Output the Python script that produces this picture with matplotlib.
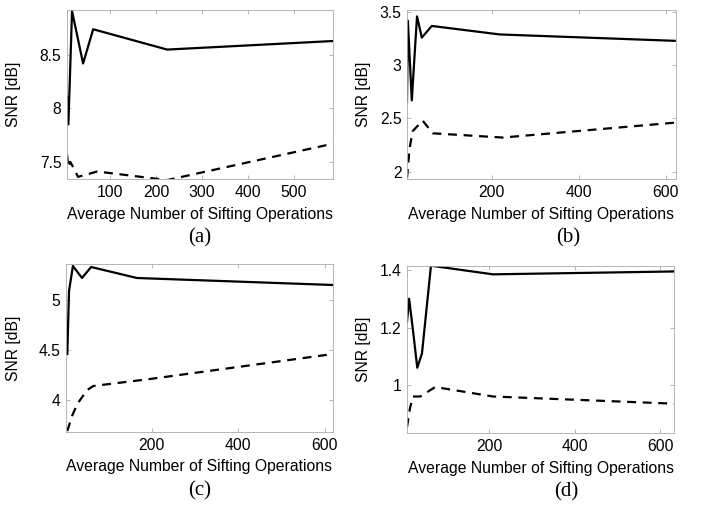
import matplotlib
matplotlib.use('Agg')
import matplotlib.pyplot as plt
from matplotlib.ticker import FuncFormatter

# panel (a)
xa_solid = [6, 9, 17, 41, 63, 224, 585]
ya_solid = [8.11, 7.85, 8.91, 8.42, 8.74, 8.55, 8.63]
xa_dash = [6, 9, 13, 17, 30, 72, 224, 585]
ya_dash = [7.57, 7.45, 7.50, 7.47, 7.36, 7.41, 7.33, 7.67]

# panel (b)
xb_solid = [5, 7, 16, 28, 39, 62, 218, 620]
yb_solid = [2.66, 3.42, 2.67, 3.46, 3.26, 3.37, 3.29, 3.23]
xb_dash = [5, 11, 18, 41, 64, 225, 620]
yb_dash = [1.94, 2.22, 2.38, 2.48, 2.36, 2.32, 2.46]

# panel (c)
xc_solid = [5, 9, 18, 39, 60, 166, 619]
yc_solid = [4.46, 5.09, 5.34, 5.22, 5.33, 5.22, 5.15]
xc_dash = [5, 16, 28, 51, 65, 196, 619]
yc_dash = [3.69, 3.84, 3.96, 4.10, 4.14, 4.21, 4.46]

# panel (d)
xd_solid = [8, 13, 22, 32, 43, 64, 209, 632]
yd_solid = [1.22, 1.30, 1.19, 1.06, 1.11, 1.415, 1.385, 1.395]
xd_dash = [8, 15, 22, 39, 74, 209, 632]
yd_dash = [0.854, 0.92, 0.96, 0.96, 0.993, 0.96, 0.935]

panels = [
    dict(xs=xa_solid, ys=ya_solid, xd=xa_dash, yd=ya_dash,
         xlim=(6, 585), ylim=(7.34, 8.92),
         xticks=[100, 200, 300, 400, 500], yticks=[7.5, 8, 8.5],
         pos=[67, 10, 333, 179], cap='(a)', capx=200, ylx=21),
    dict(xs=xb_solid, ys=yb_solid, xd=xb_dash, yd=yb_dash,
         xlim=(5, 623), ylim=(1.93, 3.52),
         xticks=[200, 400, 600], yticks=[2, 2.5, 3, 3.5],
         pos=[407, 10, 676, 179], cap='(b)', capx=568, ylx=371),
    dict(xs=xc_solid, ys=yc_solid, xd=xc_dash, yd=yc_dash,
         xlim=(2, 619), ylim=(3.68, 5.36),
         xticks=[200, 400, 600], yticks=[4, 4.5, 5],
         pos=[66, 264, 333, 432], cap='(c)', capx=200, ylx=21),
    dict(xs=xd_solid, ys=yd_solid, xd=xd_dash, yd=yd_dash,
         xlim=(8, 632), ylim=(0.833, 1.414),
         xticks=[200, 400, 600], yticks=[1, 1.2, 1.4],
         pos=[407, 266, 674, 433], cap='(d)', capx=566, ylx=371),
]

W, H = 706, 508
fig = plt.figure(figsize=(W / 100, H / 100), dpi=100)
plt.rcParams['font.family'] = 'Liberation Sans'

for p in panels:
    l, t, r, b = p['pos']
    ax = fig.add_axes([l / W, 1 - b / H, (r - l) / W, (b - t) / H])
    ax.plot(p['xs'], p['ys'], color='black', lw=1.6)
    ax.plot(p['xd'], p['yd'], color='black', lw=1.6, ls=(0, (4, 3)))
    ax.set_xlim(p['xlim'])
    ax.set_ylim(p['ylim'])
    ax.set_xticks(p['xticks'])
    ax.set_yticks(p['yticks'])
    ax.yaxis.set_major_formatter(FuncFormatter(lambda v, pos: '%g' % v))
    ax.tick_params(direction='in', length=3, width=0.5, color='#999999',
                   top=True, right=True, labelsize=11.3, pad=4)
    for s in ax.spines.values():
        s.set_color('#aaaaaa')
        s.set_linewidth(0.6)
    ax.set_ylabel('SNR [dB]', fontsize=11.3)
    ax.yaxis.set_label_coords((p['ylx'] - l) / (r - l), 0.5)
    ax.set_xlabel('Average Number of Sifting Operations', fontsize=11.3, labelpad=5)
    fig.text(p['capx'] / W, 1 - (b + 59) / H, p['cap'], ha='center', va='center',
             fontsize=15, family='Liberation Serif')

fig.savefig('out.png', dpi=100)
